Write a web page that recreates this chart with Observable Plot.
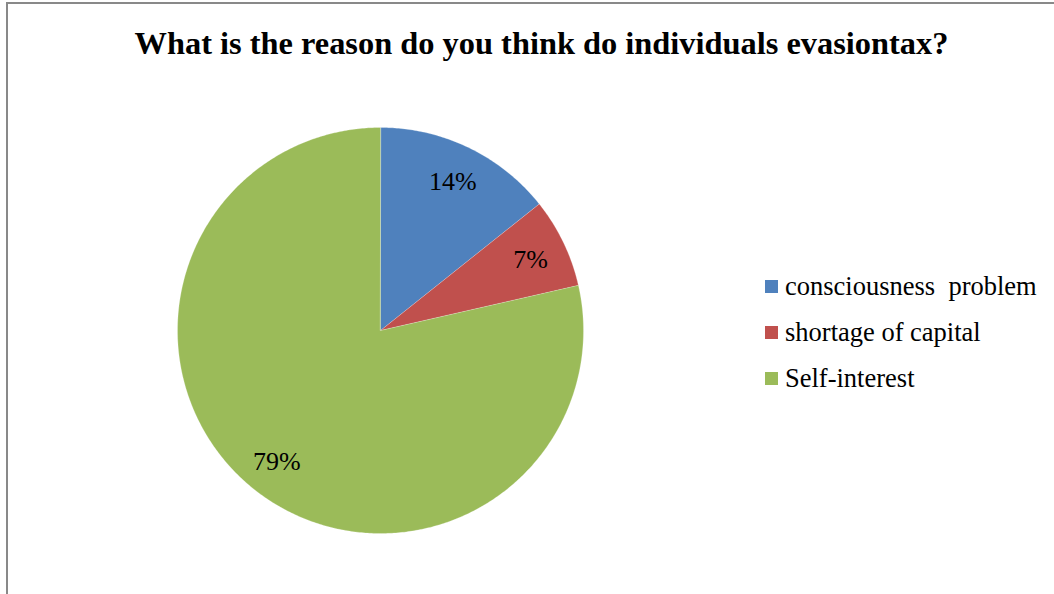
<!DOCTYPE html>
<html>
<head>
<meta charset="utf-8">
<script src="https://cdn.jsdelivr.net/npm/d3@7"></script>
<script src="https://cdn.jsdelivr.net/npm/@observablehq/plot@0.6"></script>
<style>
  html, body { margin: 0; padding: 0; background: #fff; }
  #wrap { position: relative; width: 1054px; height: 594px; overflow: hidden; font-family: "Liberation Serif", "Times New Roman", serif; }
  #frame { position: absolute; left: 6px; top: 2px; width: 1100px; height: 700px; border: 2px solid #898989; box-sizing: border-box; }
  #title { position: absolute; left: 0; width: 1083px; top: 25px; text-align: center; font-weight: bold; font-size: 32.4px; color: #000; white-space: nowrap; }
  #legend { position: absolute; left: 765px; top: 263px; font-size: 26.5px; color: #000; }
  .item { display: flex; align-items: center; height: 46px; white-space: pre; }
  .sw { width: 13px; height: 13px; margin-right: 7px; }
  #chart { position: absolute; left: 0; top: 0; }
</style>
</head>
<body>
<div id="wrap">
  <div id="frame"></div>
  <div id="chart"></div>
  <div id="title">What is the reason do you think do individuals evasiontax?</div>
  <div id="legend"></div>
</div>
<script>
const categories = ["consciousness  problem", "shortage of capital", "Self-interest"];
const values = [14.29, 7.14, 78.57];
const labels = ["14%", "7%", "79%"];
const colors = ["#4f81bd", "#c0504d", "#9bbb59"];

const total = d3.sum(values);
const slices = [];
const labelPts = [];
let start = 0;
categories.forEach((c, i) => {
  const a0 = start / total * 2 * Math.PI;
  const a1 = (start + values[i]) / total * 2 * Math.PI;
  start += values[i];
  const n = Math.max(2, Math.ceil((a1 - a0) / 0.01));
  slices.push({category: c, x: 0, y: 0});
  for (let k = 0; k <= n; k++) {
    const a = a0 + (a1 - a0) * k / n;
    slices.push({category: c, x: Math.sin(a), y: Math.cos(a)});
  }
  const am = (a0 + a1) / 2;
  labelPts.push({category: c, label: labels[i], x: 0.82 * Math.sin(am), y: 0.82 * Math.cos(am)});
});

const chart = Plot.plot({
  width: 1054,
  height: 594,
  margin: 0,
  x: {domain: [-1, 1], range: [177, 583], axis: null},
  y: {domain: [-1, 1], range: [533, 127], axis: null},
  color: {domain: categories, range: colors},
  style: {background: "transparent", fontFamily: "Liberation Serif, Times New Roman, serif"},
  marks: [
    Plot.line(slices, {x: "x", y: "y", z: "category", fill: "category", stroke: "white", strokeWidth: 0.4, strokeOpacity: 0.6, curve: "linear-closed"}),
    Plot.text(labelPts, {x: "x", y: "y", text: "label", fontSize: 26, fill: "black", dy: 1})
  ]
});
document.getElementById("chart").appendChild(chart);

const legend = document.getElementById("legend");
categories.forEach((c, i) => {
  const row = document.createElement("div");
  row.className = "item";
  const sw = document.createElement("div");
  sw.className = "sw";
  sw.style.background = colors[i];
  const t = document.createElement("span");
  t.textContent = c;
  row.appendChild(sw);
  row.appendChild(t);
  legend.appendChild(row);
});
</script>
</body>
</html>
